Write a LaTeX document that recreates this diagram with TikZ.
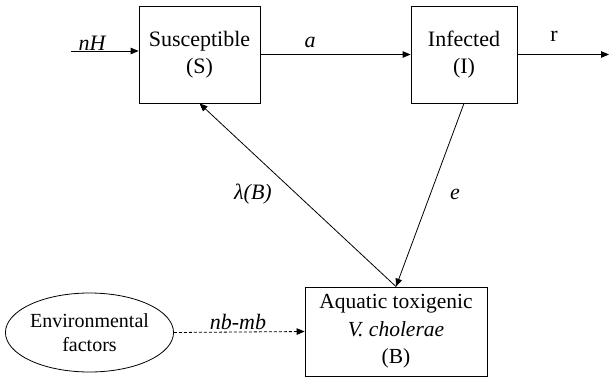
\documentclass[tikz,border=0pt]{standalone}
\usepackage{fontspec}
\setmainfont{Liberation Serif}
\usetikzlibrary{arrows.meta,shapes.geometric}
\tikzset{
  compartment/.style={draw, line width=0.8pt, inner sep=0pt, align=center, font=\fontsize{22}{27}\selectfont},
  flow/.style={-{Triangle[length=8pt,width=6.5pt]}, line width=0.8pt},
  rate/.style={font=\fontsize{22}{26}\selectfont\itshape, inner sep=0pt}
}
\begin{document}
\begin{tikzpicture}[x=1pt,y=-1pt]
\useasboundingbox (0,0) rectangle (609,377);
% compartments
\node[compartment, minimum width=121pt, minimum height=97pt] (S) at (199.5,54.5) {Susceptible\\(S)};
\node[compartment, minimum width=106pt, minimum height=97pt] (I) at (464,54.5) {Infected\\(I)};
\node[compartment, minimum width=182pt, minimum height=89pt, font=\fontsize{21.5}{27.5}\selectfont] (B) at (396,331.5) {Aquatic toxigenic\\\textit{V. cholerae}\\(B)};
\node[draw, ellipse, line width=0.8pt, inner sep=0pt, minimum width=145pt, minimum height=79pt, align=center, font=\fontsize{20}{23.5}\selectfont] (env) at (89.5,332.5) {Environmental\\factors};
\coordinate (hin) at (71,51);
\coordinate (rout) at (609,54.5);
% flows
\draw[flow] (hin) -- (hin -| S.west);
\draw[flow] (S.east) -- (I.west);
\draw[flow] (I.east) -- (rout);
\draw[flow] (B.north) -- (S.south);
\draw[flow] (I.south) -- (B.north);
\draw[flow, dash pattern=on 3pt off 2pt] (env.east) -- (B.west);
% rates
\node[rate] (lnH) at (92,43) {nH};
\node[rate] (la) at (310,42) {a};
\node[rate, font=\fontsize{22}{26}\selectfont] (lr) at (554,36) {r};
\node[rate] (llam) at (253,194) {λ(B)};
\node[rate] (le) at (455,194) {e};
\node[rate] (lnb) at (238,322) {nb-mb};
\end{tikzpicture}
\end{document}
